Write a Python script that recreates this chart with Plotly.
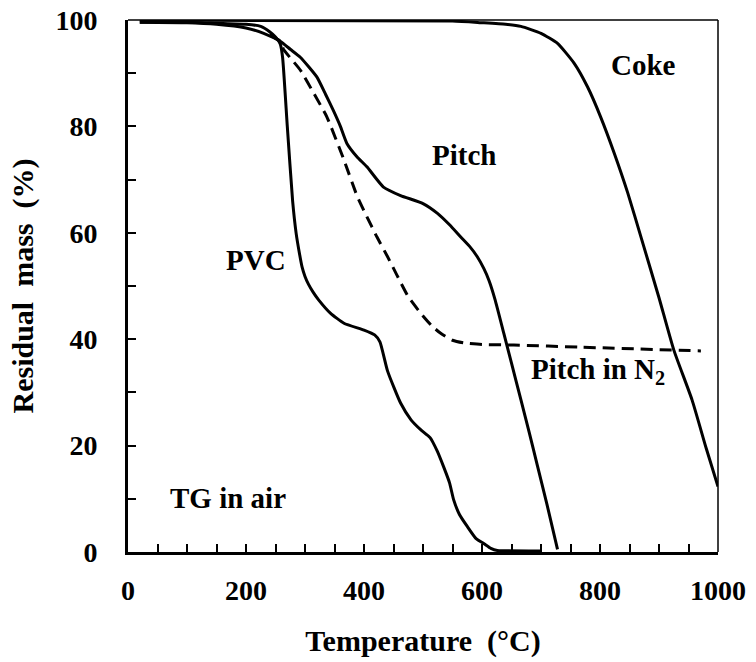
import plotly.graph_objects as go

# Thermogravimetric curves: residual mass (%) vs temperature (°C)
pvc_t = [20, 100, 150, 200, 225, 240, 250, 258, 262, 270, 279, 285, 290, 295, 300, 306, 314, 323, 343, 366,
         400, 418, 427, 440, 462, 480, 496, 512, 524, 535, 545, 552, 562, 575, 590, 603, 615, 626, 700]
pvc_m = [99.6, 99.6, 99.4, 99.2, 98.8, 97.8, 96.8, 95.5, 93, 80, 66, 59.9, 56.5, 53.6, 51.8, 50.3, 48.8, 47.4, 44.9, 43,
         41.7, 40.8, 39.5, 34, 28, 24.8, 23, 21.5, 19, 16, 13, 9.8, 7, 4.8, 2.5, 1.6, 0.7, 0.3, 0.2]

pitch_t = [20, 100, 150, 200, 230, 258, 275, 292, 320, 335, 348, 360, 371, 388, 405, 433, 462,
           500, 524, 545, 564, 580, 592, 603, 612, 622, 637, 650, 666, 680, 694, 710, 728]
pitch_m = [99.6, 99.5, 99.2, 98.5, 97.5, 96, 94.5, 93, 89.3, 86, 83, 80, 76.8, 74.3, 72.4, 68.6, 67,
           65.5, 63.7, 61.5, 59.2, 57.3, 55.5, 53.3, 51, 47.5, 41.1, 35.5, 28.6, 22.5, 16.2, 9, 0.5]

pitch_n2_t = [240, 258, 264, 278, 292, 315, 337, 366, 388, 405, 422, 440, 456, 475, 496, 515, 530,
              550, 569, 600, 654, 767, 971]
pitch_n2_m = [97.2, 96, 94.4, 92.5, 90.6, 86.2, 81.8, 73.7, 67, 63, 59.2, 55.5, 52, 48, 44.9, 42.5, 41.1,
              39.8, 39.3, 39, 38.9, 38.5, 37.8]

coke_t = [20, 550, 598, 640, 666, 700, 728, 756, 779, 801, 824, 847, 870, 900, 925, 956, 980, 1000]
coke_m = [100, 99.8, 99.5, 99.2, 98.8, 97.5, 95.6, 91.9, 87.4, 81.8, 75, 67.5, 59, 47.8, 38, 28.6, 19.5, 12.3]

labels = ["Coke", "Pitch", "PVC", "Pitch in N<sub>2</sub>", "TG in air"]
label_x = [874, 569, 217, 796, 170]
label_y = [91.5, 74.6, 54.9, 34, 10.2]

x_ticks = [0, 200, 400, 600, 800, 1000]
y_ticks = [0, 20, 40, 60, 80, 100]

FONT = "Liberation Serif"
LINE = dict(color="black", width=3)

fig = go.Figure()
fig.add_trace(go.Scatter(x=pvc_t, y=pvc_m, mode="lines", line=dict(LINE, shape="spline", smoothing=0.5)))
fig.add_trace(go.Scatter(x=pitch_t, y=pitch_m, mode="lines", line=dict(LINE, shape="spline", smoothing=0.5)))
fig.add_trace(go.Scatter(x=pitch_n2_t, y=pitch_n2_m, mode="lines",
                         line=dict(LINE, dash="12px,7px", shape="spline", smoothing=0.5)))
fig.add_trace(go.Scatter(x=coke_t, y=coke_m, mode="lines", line=dict(LINE, shape="spline", smoothing=0.5)))

for txt, x, y in zip(labels, label_x, label_y):
    fig.add_annotation(x=x, y=y, text="<b>" + txt + "</b>", showarrow=False,
                       font=dict(family=FONT, size=29, color="black"))

# thin frame on top and right
fig.add_shape(type="line", xref="paper", yref="paper", x0=0, x1=1, y0=1, y1=1,
              line=dict(color="black", width=1.5))
fig.add_shape(type="line", xref="paper", yref="paper", x0=1, x1=1, y0=0, y1=1,
              line=dict(color="black", width=1.5))

axis_common = dict(
    showgrid=False, zeroline=False, showline=True, linecolor="black", linewidth=2.8,
    ticks="inside", ticklen=8, tickwidth=1.8, tickcolor="black",
    tickfont=dict(family=FONT, size=28, color="black"),
)

fig.update_xaxes(
    axis_common, range=[0, 1000], tickvals=x_ticks, ticktext=[f"<b>{v}</b>" for v in x_ticks],
    minor=dict(dtick=50, ticks="inside", ticklen=8, tickwidth=1.8, tickcolor="black"),
    ticklabelstandoff=11,
    title=dict(text="<b>Temperature\u00a0\u00a0(°C)</b>", font=dict(family=FONT, size=30, color="black"),
               standoff=26),
)
fig.update_yaxes(
    axis_common, range=[0, 100], tickvals=y_ticks, ticktext=[f"<b>{v}</b>" for v in y_ticks],
    minor=dict(dtick=10, ticks="inside", ticklen=8, tickwidth=1.8, tickcolor="black"),
    ticklabelstandoff=22,
    title=dict(text="<b>Residual\u00a0\u00a0mass\u00a0\u00a0(%)</b>", font=dict(family=FONT, size=30, color="black"),
               standoff=14),
)

fig.update_layout(
    width=756, height=662,
    margin=dict(l=128, r=38, t=20, b=110, autoexpand=False),
    paper_bgcolor="white", plot_bgcolor="white",
    showlegend=False,
)

fig.write_html("out.html")
